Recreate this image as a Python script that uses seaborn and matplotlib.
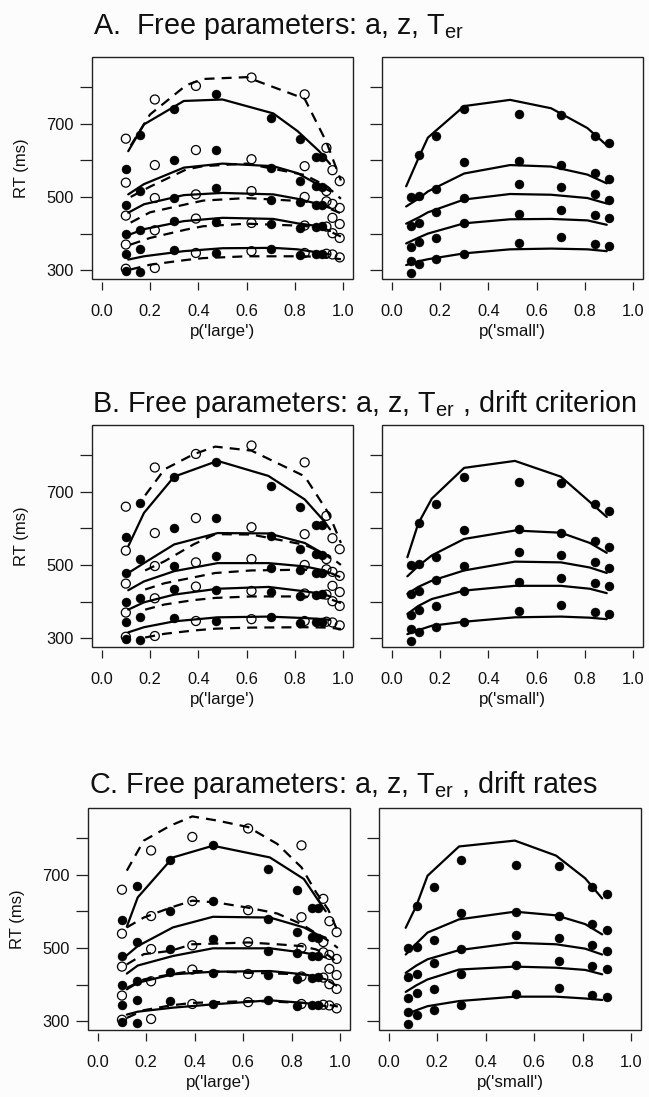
import numpy as np
import matplotlib
matplotlib.use("Agg")
import matplotlib.pyplot as plt
from matplotlib.patches import Rectangle
import seaborn as sns

sns.set_style("white")
plt.rcParams['font.family'] = ['Liberation Sans', 'DejaVu Sans']
plt.rcParams['mathtext.fontset'] = 'custom'
plt.rcParams['mathtext.rm'] = 'Liberation Sans'
plt.rcParams['mathtext.it'] = 'Liberation Sans:italic'

# ---------------- observed data (identical in all three rows) ----------------
# left panels: filled circles ('large' responses), open circles
x_filled = [0.10, 0.16, 0.30, 0.475, 0.70, 0.82, 0.885, 0.91]
rt_filled = [
    [297, 296, 355, 346, 357, 341, 345, 345],
    [345, 358, 434, 432, 425, 416, 419, 420],
    [399, 411, 498, 525, 493, 487, 478, 478],
    [478, 516, 602, 628, 580, 543, 531, 527],
    [575, 668, 739, 782, 715, 657, 609, 609],
]
x_open = [0.10, 0.22, 0.39, 0.62, 0.84, 0.93, 0.955, 0.985]
rt_open = [
    [304, 306, 347, 352, 347, 345, 343, 335],
    [370, 409, 441, 429, 422, 419, 401, 388],
    [449, 497, 507, 516, 500, 488, 443, 426],
    [539, 587, 628, 603, 584, 516, 481, 470],
    [659, 766, 803, 826, 780, 634, 573, 543],
]
# right panels: filled circles ('small' responses)
x_small = [0.08, 0.115, 0.185, 0.30, 0.525, 0.70, 0.84, 0.90]
rt_small = [
    [293, 317, 330, 344, 375, 392, 371, 366],
    [326, 378, 387, 428, 453, 465, 450, 442],
    [362, 430, 458, 497, 534, 528, 509, 491],
    [421, 502, 522, 595, 599, 588, 566, 548],
    [500, 614, 665, 740, 727, 724, 665, 646],
]

# ---------------- model predictions ----------------
# Row A
A_solid_x = [0.11, 0.175, 0.34, 0.50, 0.71, 0.81, 0.90, 0.945]
A_solid = [
    [329, 338, 352, 360, 361, 357, 348, 343],
    [396, 412, 434, 443, 440, 428, 420, 407],
    [457, 480, 505, 511, 507, 495, 480, 470],
    [507, 535, 580, 591, 584, 565, 532, 516],
    [625, 698, 762, 766, 728, 680, 625, 590],
]
A_dash_x = [0.12, 0.20, 0.35, 0.42, 0.60, 0.84, 0.93, 0.99]
A_dash = [
    [302, 315, 328, 333, 338, 338, 335, 330],
    [370, 388, 411, 420, 427, 421, 410, 392],
    [430, 458, 480, 490, 497, 488, 472, 455],
    [500, 528, 575, 584, 591, 560, 530, 495],
    [640, 725, 805, 822, 827, 768, 650, 545],
]
A_small_x = [0.06, 0.115, 0.15, 0.30, 0.49, 0.66, 0.81, 0.89]
A_small = [
    [314, 325, 330, 346, 357, 359, 357, 352],
    [373, 390, 400, 428, 439, 440, 436, 424],
    [427, 445, 458, 493, 508, 506, 497, 482],
    [474, 497, 515, 564, 587, 583, 561, 537],
    [529, 612, 662, 748, 765, 742, 688, 641],
]
# Row B
B_solid_x = [0.11, 0.175, 0.30, 0.48, 0.69, 0.84, 0.92, 0.945]
B_solid = [
    [316, 330, 346, 357, 359, 355, 352, 350],
    [378, 398, 419, 435, 440, 428, 420, 414],
    [431, 455, 483, 505, 505, 496, 485, 478],
    [478, 505, 556, 587, 586, 560, 530, 519],
    [551, 642, 741, 784, 743, 679, 620, 597],
]
B_dash_x = [0.18, 0.26, 0.38, 0.47, 0.62, 0.84, 0.94, 0.99]
B_dash = [
    [302, 312, 321, 326, 329, 330, 329, 325],
    [378, 392, 404, 410, 414, 414, 408, 396],
    [433, 450, 466, 478, 485, 487, 480, 466],
    [485, 510, 556, 584, 583, 555, 525, 500],
    [690, 761, 802, 823, 812, 742, 640, 560],
]
B_small_x = [0.065, 0.11, 0.166, 0.30, 0.51, 0.70, 0.82, 0.89]
B_small = [
    [311, 322, 334, 345, 357, 359, 356, 352],
    [366, 388, 407, 430, 443, 443, 435, 423],
    [421, 440, 457, 485, 509, 507, 493, 478],
    [469, 497, 526, 571, 594, 588, 560, 533],
    [521, 613, 681, 765, 784, 741, 672, 631],
]
# Row C
C_solid_x = [0.12, 0.165, 0.31, 0.475, 0.71, 0.85, 0.91, 0.94]
C_solid = [
    [318, 326, 337, 346, 357, 350, 345, 341],
    [387, 405, 428, 435, 437, 428, 420, 414],
    [430, 452, 478, 499, 499, 487, 480, 474],
    [480, 505, 556, 585, 583, 556, 535, 528],
    [558, 638, 747, 779, 747, 688, 629, 600],
]
C_dash_x = [0.12, 0.19, 0.30, 0.39, 0.49, 0.62, 0.74, 0.84, 0.90, 0.95, 0.99]
C_dash = [
    [309, 330, 343, 350, 352, 355, 353, 350, 348, 345, 340],
    [391, 414, 428, 437, 436, 432, 430, 428, 423, 410, 395],
    [455, 483, 492, 510, 512, 515, 510, 505, 496, 480, 460],
    [556, 583, 610, 629, 624, 610, 594, 565, 540, 520, 500],
    [711, 793, 834, 859, 848, 830, 784, 720, 652, 605, 545],
]
C_small_x = [0.07, 0.114, 0.16, 0.29, 0.52, 0.69, 0.81, 0.88]
C_small = [
    [318, 330, 341, 355, 367, 367, 362, 358],
    [380, 398, 414, 441, 449, 446, 440, 428],
    [432, 452, 469, 494, 514, 510, 498, 482],
    [482, 512, 542, 578, 599, 589, 565, 537],
    [555, 615, 697, 777, 793, 752, 690, 635],
]

titles = [
    "A.  Free parameters: a, z, T$_{\\mathregular{er}}$",
    "B. Free parameters: a, z, T$_{\\mathregular{er}}$ , drift criterion",
    "C. Free parameters: a, z, T$_{\\mathregular{er}}$ , drift rates",
]
xtick_vals = [0.0, 0.2, 0.4, 0.6, 0.8, 1.0]
xtick_labels = ["0.0", "0.2", "0.4", "0.6", "0.8", "1.0"]
ytick_vals = [300, 400, 500, 600, 700, 800]
ytick_labels = ["300", "", "500", "", "700", ""]
xlabels = ["p('large')", "p('small')"]

# ---------------- layout (pixels) ----------------
W, H = 649, 1097
DPI = 100
fig = plt.figure(figsize=(W / DPI, H / DPI), dpi=DPI)
fig.patch.set_facecolor('#fcfcfc')

rows = [
    dict(top=57, bot=279, left=(92, 353), right=(382, 643), title_y=34, title_x=93),
    dict(top=425, bot=647, left=(92, 353), right=(382, 643), title_y=412, title_x=92),
    dict(top=808, bot=1030, left=(88, 350), right=(379, 641), title_y=793, title_x=89),
]
model_sets = [
    (A_solid_x, A_solid, A_dash_x, A_dash, A_small_x, A_small),
    (B_solid_x, B_solid, B_dash_x, B_dash, B_small_x, B_small),
    (C_solid_x, C_solid, C_dash_x, C_dash, C_small_x, C_small),
]

LW = 1.6
DASH = (0, (4.5, 3.2))
MS = 42
BOXC = '#222222'


def make_ax(x0, x1, y0, y1):
    ax = fig.add_axes([x0 / W, 1 - y1 / H, (x1 - x0) / W, (y1 - y0) / H])
    ax.set_facecolor('#fcfcfc')
    return ax


def style_ax(ax, xlabel, ylabel_on):
    ax.set_xlim(-0.04, 1.04)
    ax.set_ylim(276, 882)
    ax.set_xticks(xtick_vals)
    ax.set_xticklabels(xtick_labels)
    ax.set_yticks(ytick_vals)
    ax.set_yticklabels(ytick_labels if ylabel_on else [""] * len(ytick_vals))
    for s in ['top', 'right', 'left', 'bottom']:
        ax.spines[s].set_visible(False)
    ax.spines['bottom'].set_position(('outward', 2.2))
    ax.add_patch(Rectangle((0, 0), 1, 1, transform=ax.transAxes, fill=False,
                           lw=1.0, ec=BOXC, clip_on=False, zorder=6))
    ax.tick_params(axis='x', direction='out', length=6, width=0.9, pad=10,
                   labelsize=11.8, colors=BOXC, labelcolor='#111111', bottom=True)
    ax.tick_params(axis='y', direction='out', length=8.6, width=0.9, pad=4.5,
                   labelsize=11.8, colors=BOXC, labelcolor='#111111', left=True)
    ax.set_xlabel(xlabel, fontsize=12.2, color='#111111')
    ax.xaxis.set_label_coords(0.5, -0.203)
    if ylabel_on:
        ax.set_ylabel("RT (ms)", fontsize=12, color='#111111')
        ax.yaxis.set_label_coords(-0.241, 0.5)
    else:
        ax.set_ylabel("")
    ax.grid(False)


for r, (row, models, title) in enumerate(zip(rows, model_sets, titles)):
    sx, sy, dx, dy, smx, smy = models
    # left panel
    axL = make_ax(row['left'][0], row['left'][1], row['top'], row['bot'])
    for q in range(5):
        sns.lineplot(x=sx, y=sy[q], ax=axL, color='black', lw=LW, sort=False,
                     estimator=None, zorder=2)
        sns.lineplot(x=dx, y=dy[q], ax=axL, color='black', lw=LW, sort=False,
                     estimator=None, linestyle=DASH, zorder=2)
        sns.scatterplot(x=x_filled, y=rt_filled[q], ax=axL, s=MS, color='black',
                        edgecolor='black', linewidth=0.3, zorder=3)
        sns.scatterplot(x=x_open, y=rt_open[q], ax=axL, s=MS, facecolor='none',
                        edgecolor='black', linewidth=0.9, zorder=3)
    style_ax(axL, xlabels[0], True)

    # right panel
    axR = make_ax(row['right'][0], row['right'][1], row['top'], row['bot'])
    for q in range(5):
        sns.lineplot(x=smx, y=smy[q], ax=axR, color='black', lw=LW, sort=False,
                     estimator=None, zorder=2)
        sns.scatterplot(x=x_small, y=rt_small[q], ax=axR, s=MS, color='black',
                        edgecolor='black', linewidth=0.3, zorder=3)
    style_ax(axR, xlabels[1], False)

    fig.text(row['title_x'] / W, 1 - row['title_y'] / H, title, fontsize=20.7,
             ha='left', va='baseline', color='#111111')

fig.savefig("out.png", dpi=DPI, facecolor=fig.get_facecolor())
